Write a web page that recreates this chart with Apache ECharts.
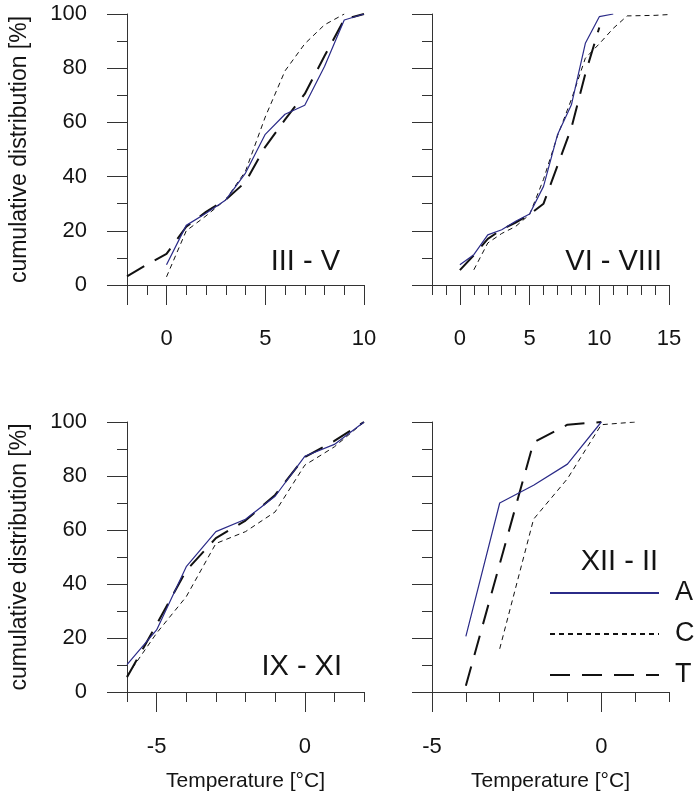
<!DOCTYPE html>
<html><head><meta charset="utf-8">
<script src="https://cdn.jsdelivr.net/npm/echarts@6/dist/echarts.min.js"></script>
<style>html,body{margin:0;padding:0;background:#fff}#c{width:695px;height:795px}</style>
</head><body><div id="c"></div>
<script>
// Panel labels
const panelNames = ['III - V', 'VI - VIII', 'IX - XI', 'XII - II'];
const seriesNames = ['A', 'C', 'T'];

// Panel 1: III - V
const p1A_x = [0, 1, 2, 3, 4, 5, 6, 7, 8, 9, 10];
const p1A_y = [7.5, 22, 26.5, 31.4, 41.3, 55.6, 63, 66.3, 80.6, 97.8, 100];
const p1C_x = [0, 1, 2, 3, 4, 5, 6, 7, 8, 9];
const p1C_y = [3, 20, 25.5, 31.5, 42, 62, 79, 89, 96, 100];
const p1T_x = [-2, -1, 0, 1, 2, 3, 4, 5, 6, 7, 8, 9, 10];
const p1T_y = [3.2, 7.5, 11.5, 21.5, 27, 31.5, 38, 51, 61, 70.5, 84.5, 98, 100];

// Panel 2: VI - VIII
const p2A_x = [0, 1, 2, 3, 4, 5, 6, 7, 8, 9, 10, 11];
const p2A_y = [7.5, 11.2, 18.5, 20.4, 23.5, 26.2, 36.4, 55.4, 66.5, 89.2, 99, 100];
const p2C_x = [1, 2, 3, 4, 5, 6, 7, 8, 9, 10, 11, 12, 13, 14, 15];
const p2C_y = [5.6, 15.5, 19, 21.6, 26, 39, 55, 68.5, 83.7, 89, 94.7, 99.3, 99.4, 99.5, 99.8];
const p2T_x = [0, 1, 2, 3, 4, 5, 6, 7, 8, 9, 10];
const p2T_y = [5.5, 11, 17, 20.5, 23, 26, 30, 44, 58, 78, 95];

// Panel 3: IX - XI
const p3A_x = [-6, -5, -4, -3, -2, -1, 0, 1, 2];
const p3A_y = [10.1, 23, 46.4, 59.4, 64, 72.5, 87.3, 91.7, 100];
const p3C_x = [-6, -5, -4, -3, -2, -1, 0, 1, 2];
const p3C_y = [6, 21.8, 35.3, 55, 59.4, 66.7, 84, 90.8, 100];
const p3T_x = [-6, -5, -4, -3, -2, -1, 0, 1, 2];
const p3T_y = [5.5, 25, 45, 57, 63.5, 73, 87, 93, 100];

// Panel 4: XII - II
const p4A_x = [-4, -3, -2, -1, 0];
const p4A_y = [20.6, 70, 76.6, 84.4, 100];
const p4C_x = [-3, -2, -1, 0, 1];
const p4C_y = [16, 64, 79, 99, 100];
const p4T_x = [-4, -2, -1, 0];
const p4T_y = [2.3, 92.5, 99, 100];

// Axes
const xMins = [-2, -2, -6, -5];
const xMaxs = [10, 15, 2, 2];
const xMajorTicks = [[-2, 0, 5, 10], [0, 5, 10, 15], [-5, 0], [-5, 0]];
const xLabels = [[0, 5, 10], [0, 5, 10, 15], [-5, 0], [-5, 0]];
const yName = 'cumulative distribution [%]';
const xName = 'Temperature [°C]';

const panelData = [
  [[p1A_x, p1A_y], [p1C_x, p1C_y], [p1T_x, p1T_y]],
  [[p2A_x, p2A_y], [p2C_x, p2C_y], [p2T_x, p2T_y]],
  [[p3A_x, p3A_y], [p3C_x, p3C_y], [p3T_x, p3T_y]],
  [[p4A_x, p4A_y], [p4C_x, p4C_y], [p4T_x, p4T_y]]
];

const FONT = 'Liberation Sans, Arial, sans-serif';
const AX = '#333';
const TXT = '#141414';
const lineStyles = [
  { color: '#2b2b88', width: 1.2, type: 'solid' },
  { color: '#111', width: 1, type: [5, 4] },
  { color: '#111', width: 2, type: [20, 12] }
];

const grids = [
  { left: 127, top: 14, width: 237, height: 271 },
  { left: 432, top: 14, width: 237, height: 271 },
  { left: 127, top: 422, width: 237, height: 270 },
  { left: 432, top: 422, width: 237, height: 270 }
].map(g => Object.assign({ outerBoundsMode: 'none', containLabel: false }, g));

const xAxes = [], yAxes = [], series = [];
for (let i = 0; i < 4; i++) {
  xAxes.push({
    type: 'value', gridIndex: i, min: xMins[i], max: xMaxs[i], interval: 1, position: 'bottom',
    axisLine: { show: true, onZero: false, lineStyle: { color: AX, width: 1 } },
    axisTick: { show: true, length: 10, lineStyle: { color: AX } },
    axisLabel: { show: false }, splitLine: { show: false }
  });
  xAxes.push({
    type: 'value', gridIndex: i, min: xMins[i], max: xMaxs[i], interval: 1, position: 'bottom',
    axisLine: { show: false, onZero: false },
    axisTick: { show: true, length: 20, customValues: xMajorTicks[i], lineStyle: { color: AX } },
    axisLabel: { show: true, customValues: xLabels[i], margin: i < 2 ? 43 : 44, fontSize: 22, color: TXT, fontFamily: FONT },
    splitLine: { show: false },
    name: i >= 2 ? xName : '', nameLocation: 'middle', nameGap: 79,
    nameTextStyle: { fontSize: 21, color: TXT, fontFamily: FONT }
  });
  yAxes.push({
    type: 'value', gridIndex: i, min: 0, max: 100, interval: 20,
    axisLine: { show: true, onZero: false, lineStyle: { color: AX, width: 1 } },
    axisTick: { show: true, length: 20, lineStyle: { color: AX } },
    minorTick: { show: true, splitNumber: 2, length: 10, lineStyle: { color: AX } },
    axisLabel: { show: i % 2 === 0, margin: 40, fontSize: 22, color: TXT, fontFamily: FONT },
    splitLine: { show: false }, minorSplitLine: { show: false },
    name: i % 2 === 0 ? yName : '', nameLocation: 'middle', nameGap: 96,
    nameTextStyle: { fontSize: 23, color: TXT, fontFamily: FONT }
  });
  panelData[i].forEach((s, k) => {
    series.push({
      type: 'line', name: seriesNames[k], xAxisIndex: 2 * i, yAxisIndex: i,
      data: s[0].map((x, j) => [x, s[1][j]]),
      symbol: 'none', showSymbol: false, smooth: false,
      lineStyle: lineStyles[k], itemStyle: { color: lineStyles[k].color },
      z: 3 - k
    });
  });
}

const titles = [
  { text: panelNames[0], right: 355, top: 247 },
  { text: panelNames[1], right: 33, top: 247 },
  { text: panelNames[2], right: 353, top: 652 },
  { text: panelNames[3], right: 37, top: 547 }
].map(t => Object.assign(t, { padding: 0, textStyle: { fontSize: 29, fontWeight: 'normal', color: TXT, fontFamily: FONT } }));

const chart = echarts.init(document.getElementById('c'), null, { renderer: 'canvas' });
chart.setOption({
  animation: false,
  backgroundColor: '#fff',
  title: titles,
  grid: grids,
  xAxis: xAxes,
  yAxis: yAxes,
  legend: {
    orient: 'vertical', left: 549, top: 578, itemWidth: 109, itemHeight: 14, itemGap: 11,
    padding: 0, selectedMode: false, data: seriesNames,
    itemStyle: { color: 'rgba(0,0,0,0)', borderWidth: 0, opacity: 0 },
    textStyle: { fontSize: 27, lineHeight: 30, color: TXT, fontFamily: FONT, padding: [0, 0, 0, 11] }
  },
  series: series
});
</script></body></html>
